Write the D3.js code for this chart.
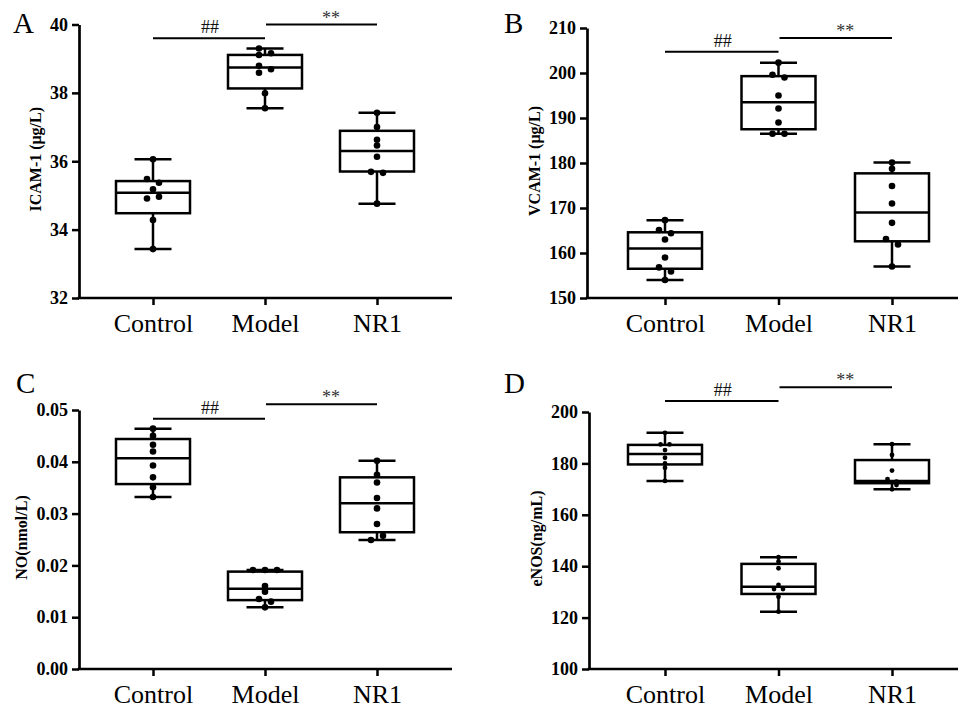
<!DOCTYPE html>
<html>
<head>
<meta charset="utf-8">
<script src="https://cdn.jsdelivr.net/npm/d3@7"></script>
<style>
  body { margin: 0; background: #fff; }
  svg text { font-family: "Liberation Serif", "DejaVu Serif", serif; }
</style>
</head>
<body>
<div id="chart"></div>
<script>
const groups = ["Control", "Model", "NR1"];

// A: ICAM-1 (μg/L)  box = [min, q1, median, q3, max]
const icamTicks = [32, 34, 36, 38, 40];
const icamBox = [[33.43, 34.48, 35.08, 35.42, 36.06], [37.55, 38.13, 38.74, 39.11, 39.30], [34.76, 35.70, 36.30, 36.89, 37.42]];
const icamPoints = [
  [36.06, 35.48, 35.37, 35.18, 34.91, 34.96, 34.28, 33.43],
  [39.30, 39.16, 39.11, 38.79, 38.69, 38.59, 37.99, 37.55],
  [37.42, 37.00, 36.63, 36.46, 36.13, 35.69, 35.66, 34.76]
];
const icamSig = [39.6, 40.0];

// B: VCAM-1 (μg/L)
const vcamTicks = [150, 160, 170, 180, 190, 200, 210];
const vcamBox = [[154.0, 156.5, 161.0, 164.6, 167.3], [186.5, 187.5, 193.5, 199.3, 202.3], [157.0, 162.6, 169.0, 177.7, 180.1]];
const vcamPoints = [
  [167.3, 165.1, 164.4, 163.0, 159.0, 156.8, 155.9, 154.0],
  [202.3, 199.6, 199.0, 195.0, 192.1, 189.0, 186.5, 186.5],
  [180.1, 178.7, 174.9, 171.0, 166.7, 163.1, 161.9, 157.0]
];
const vcamSig = [204.7, 207.8];

// C: NO (nmol/L)
const noTicks = [0, 0.01, 0.02, 0.03, 0.04, 0.05];
const noBox = [[0.0332, 0.0357, 0.0407, 0.0444, 0.0464], [0.0119, 0.0133, 0.0155, 0.0188, 0.0191], [0.0249, 0.0264, 0.0320, 0.0370, 0.0402]];
const noPoints = [
  [0.0464, 0.0450, 0.0433, 0.0420, 0.0393, 0.0370, 0.0351, 0.0332],
  [0.0191, 0.0191, 0.0191, 0.0160, 0.0149, 0.0135, 0.0130, 0.0119],
  [0.0402, 0.0375, 0.0360, 0.0330, 0.0310, 0.0280, 0.0249, 0.0257]
];
const noSig = [0.0483, 0.0511];

// D: eNOS (ng/mL)
const enosTicks = [100, 120, 140, 160, 180, 200];
const enosBox = [[173.2, 179.6, 183.7, 187.2, 191.9], [122.3, 129.2, 132.0, 140.9, 143.5], [169.9, 172.3, 173.2, 181.3, 187.5]];
const enosPoints = [
  [191.9, 187.4, 187.4, 185.2, 182.2, 180.0, 178.3, 173.2],
  [143.5, 141.8, 139.2, 132.7, 131.1, 131.1, 128.1, 122.3],
  [187.5, 183.3, 177.2, 173.9, 172.9, 172.9, 171.6, 169.9]
];
const enosSig = [204.3, 209.6];

const width = 958, height = 709;
const serif = '"Liberation Serif", "DejaVu Serif", serif';
const svg = d3.select("#chart").append("svg")
  .attr("width", width).attr("height", height)
  .style("background", "#fff");

const panels = [
  { letter: "A", lx: 13, ly: 33, ax: 79, xEnd: 452, top: 24.5, bot: 298, x0: 153, x1: 377,
    title: "ICAM-1 (μg/L)", tx: 35, fmt: d3.format("d"), ticks: icamTicks, box: icamBox, pts: icamPoints, sig: icamSig, r: 3.3, s: 6 },
  { letter: "B", lx: 504, ly: 33, ax: 587, xEnd: 958, top: 28, bot: 298, x0: 665, x1: 892,
    title: "VCAM-1 (μg/L)", tx: 534, fmt: d3.format("d"), ticks: vcamTicks, box: vcamBox, pts: vcamPoints, sig: vcamSig, r: 3.3, s: 6 },
  { letter: "C", lx: 16, ly: 393, ax: 79, xEnd: 452, top: 410, bot: 669, x0: 153, x1: 377,
    title: "NO(nmol/L)", tx: 21, fmt: d3.format(".2f"), ticks: noTicks, box: noBox, pts: noPoints, sig: noSig, r: 3.3, s: 6 },
  { letter: "D", lx: 504, ly: 393, ax: 589, xEnd: 958, top: 412, bot: 669, x0: 665, x1: 892,
    title: "eNOS(ng/mL)", tx: 536, fmt: d3.format("d"), ticks: enosTicks, box: enosBox, pts: enosPoints, sig: enosSig, r: 2.4, s: 4.5 }
];

// spread points with (nearly) equal values sideways, like a scatter dot plot
function dodge(vals, y, r, s) {
  const py = vals.map(v => y(v));
  const order = d3.range(vals.length).sort((a, b) => py[a] - py[b]);
  const off = new Array(vals.length).fill(0);
  const thr = r * 1.7;
  let grp = [order[0]];
  const flush = () => {
    if (grp.length > 1) {
      const g = grp.slice().sort((a, b) => a - b);
      const ys = g.map(i => py[i]);
      if (d3.max(ys) - d3.min(ys) < 1) {
        g.forEach((i, k) => off[i] = (k - (g.length - 1) / 2) * 2 * s);
      } else {
        g.forEach((i, k) => off[i] = k % 2 === 0 ? -s : s);
      }
    }
  };
  for (let k = 1; k < order.length; k++) {
    const i = order[k];
    if (py[i] - py[grp[grp.length - 1]] < thr) grp.push(i);
    else { flush(); grp = [i]; }
  }
  flush();
  return off;
}

panels.forEach(p => {
  const g = svg.append("g");
  const y = d3.scaleLinear().domain(d3.extent(p.ticks)).range([p.bot, p.top]);
  const x = d3.scalePoint().domain(groups).range([p.x0, p.x1]);

  // panel letter
  g.append("text").attr("x", p.lx).attr("y", p.ly)
    .style("font-family", serif).style("font-size", "29px").text(p.letter);

  // y axis
  const ya = g.append("g").attr("transform", `translate(${p.ax},0)`)
    .call(d3.axisLeft(y).tickValues(p.ticks).tickFormat(p.fmt).tickSize(7).tickSizeOuter(0).tickPadding(4));
  ya.select(".domain").attr("stroke-width", 2.7);
  ya.selectAll(".tick line").attr("stroke-width", 2.5);
  ya.selectAll(".tick text").attr("fill", "#000")
    .style("font-family", serif).style("font-size", "18px").style("font-weight", "bold");

  // x axis
  g.append("line").attr("x1", p.ax - 1.3).attr("x2", p.xEnd).attr("y1", p.bot).attr("y2", p.bot)
    .attr("stroke", "#000").attr("stroke-width", 2.7);
  const xa = g.append("g").attr("transform", `translate(0,${p.bot})`)
    .call(d3.axisBottom(x).tickSize(7).tickPadding(9));
  xa.select(".domain").remove();
  xa.selectAll(".tick line").attr("stroke-width", 2.5);
  xa.selectAll(".tick text").attr("fill", "#000")
    .style("font-family", serif).style("font-size", "26px");

  // y title
  const tcy = (p.top + p.bot) / 2 - 2;
  g.append("text").attr("transform", `translate(${p.tx},${tcy}) rotate(-90)`)
    .attr("text-anchor", "middle").attr("dy", "0.35em")
    .style("font-family", serif).style("font-size", "16px").style("font-weight", "bold").text(p.title);

  // boxes and whiskers
  const bw = 37, cw = 18.5;
  groups.forEach((c, i) => {
    const [mn, q1, md, q3, mx] = p.box[i];
    const cx = x(c);
    const bg = g.append("g").attr("stroke", "#000").attr("fill", "none").attr("stroke-width", 2.5);
    bg.append("line").attr("x1", cx).attr("x2", cx).attr("y1", y(q3)).attr("y2", y(mx));
    bg.append("line").attr("x1", cx).attr("x2", cx).attr("y1", y(q1)).attr("y2", y(mn));
    bg.append("line").attr("x1", cx - cw).attr("x2", cx + cw).attr("y1", y(mx)).attr("y2", y(mx));
    bg.append("line").attr("x1", cx - cw).attr("x2", cx + cw).attr("y1", y(mn)).attr("y2", y(mn));
    bg.append("rect").attr("x", cx - bw).attr("width", 2 * bw)
      .attr("y", y(q3)).attr("height", y(q1) - y(q3)).attr("fill", "#fff");
    bg.append("line").attr("x1", cx - bw).attr("x2", cx + bw).attr("y1", y(md)).attr("y2", y(md));

    const off = dodge(p.pts[i], y, p.r, p.s);
    g.append("g").selectAll("circle").data(p.pts[i]).join("circle")
      .attr("cx", (d, k) => cx + off[k]).attr("cy", d => y(d)).attr("r", p.r).attr("fill", "#000");
  });

  // significance bars
  const sigs = [
    { a: groups[0], b: groups[1], v: p.sig[0], label: "##", dx: 1, dy: -5, col: "#111" },
    { a: groups[1], b: groups[2], v: p.sig[1], label: "**", dx: 10, dy: -1, col: "#333" }
  ];
  sigs.forEach(sg => {
    const xa0 = x(sg.a), xb0 = x(sg.b);
    g.append("line").attr("x1", xa0 + (sg.a === groups[1] ? 1 : 0)).attr("x2", xb0)
      .attr("y1", y(sg.v)).attr("y2", y(sg.v)).attr("stroke", "#000").attr("stroke-width", 2);
    g.append("text").attr("x", (xa0 + xb0) / 2 + sg.dx).attr("y", y(sg.v) + sg.dy)
      .attr("text-anchor", "middle").attr("fill", sg.col)
      .style("font-family", serif).style("font-size", "18px").text(sg.label);
  });
});
</script>
</body>
</html>
